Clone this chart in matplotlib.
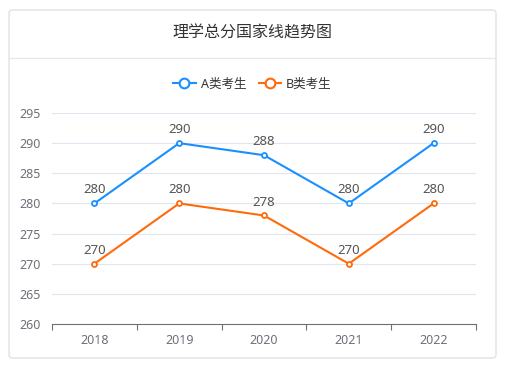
import numpy as np
import matplotlib.pyplot as plt
from matplotlib.patches import FancyBboxPatch
from matplotlib.lines import Line2D

plt.rcParams['font.family'] = ['Noto Sans', 'Noto Sans CJK SC', 'DejaVu Sans']

years = ['2018', '2019', '2020', '2021', '2022']
score_a = [280, 290, 288, 280, 290]
score_b = [270, 280, 278, 270, 280]
series_names = ['A类考生', 'B类考生']
colors = ['#1890ff', '#ff6a0a']
title = '理学总分国家线趋势图'

fig = plt.figure(figsize=(5.05, 3.65), dpi=100)
W, H = 505, 365

# card frame
card = FancyBboxPatch((9 / W, 7 / H), 487 / W, 348 / H,
                      boxstyle='round,pad=0,rounding_size=0.008',
                      transform=fig.transFigure, facecolor='white',
                      edgecolor='#dcdfe6', linewidth=0.9, zorder=-5)
fig.patches.append(card)
fig.add_artist(Line2D([9 / W, 496 / W], [1 - 58 / H, 1 - 58 / H],
                      transform=fig.transFigure, color='#e4e7ed', linewidth=0.9))
fig.text(0.5, 1 - 33 / H, title, ha='center', va='center', fontsize=11.5,
         color='#333333', family=['Noto Sans CJK SC', 'DejaVu Sans'])

ax = fig.add_axes([52 / W, 1 - 324 / H, 424 / W, 211 / H])
ax.set_facecolor('none')
ax.set_zorder(2)
x = np.arange(len(years))

for vals, c in zip([score_a, score_b], colors):
    ax.plot(x, vals, color=c, linewidth=1.5, marker='o', markersize=3.6,
            markerfacecolor='white', markeredgecolor=c, markeredgewidth=1.3, zorder=3)
    for xi, v in zip(x, vals):
        ax.annotate(str(v), (xi, v), xytext=(0, 5), textcoords='offset points',
                    ha='center', va='bottom', fontsize=9.5, color='#555555')

ax.set_xlim(-0.5, len(years) - 0.5)
ax.set_ylim(260, 295)
ax.set_yticks(np.arange(260, 296, 5))
ax.set_xticks(x)
ax.set_xticklabels(years)
ax.set_xticks(np.arange(-0.5, len(years), 1), minor=True)
ax.tick_params(axis='x', which='major', length=0, pad=7, labelsize=9, labelcolor='#6e7079')
ax.tick_params(axis='x', which='minor', length=4, color='#6e7079', width=0.8)
ax.tick_params(axis='y', length=0, pad=8, labelsize=9, labelcolor='#6e7079')
ax.grid(axis='y', color='#e0e6f1', linewidth=0.8)
ax.set_axisbelow(True)
for s in ['top', 'right', 'left']:
    ax.spines[s].set_visible(False)
ax.spines['bottom'].set_color('#6e7079')
ax.spines['bottom'].set_linewidth(0.8)

handles = [Line2D([], [], color=c, linewidth=1.5, marker='o', markersize=7,
                  markerfacecolor='white', markeredgecolor=c, markeredgewidth=1.5)
           for c in colors]
fig.legend(handles, series_names, loc='center', bbox_to_anchor=(0.5, 1 - 84 / H),
           ncol=2, frameon=False, fontsize=9, handlelength=1.8, handletextpad=0.4,
           columnspacing=1.0, labelcolor='#333333')

fig.savefig('out.png', dpi=100)
